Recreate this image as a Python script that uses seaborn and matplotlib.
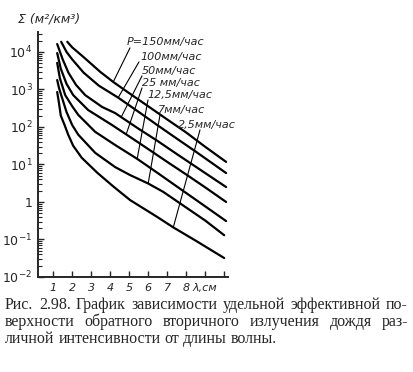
import numpy as np
import pandas as pd
import matplotlib
matplotlib.use("Agg")
import matplotlib.pyplot as plt
from matplotlib.font_manager import FontProperties
import seaborn as sns

# rain intensity labels (top curve first)
rain_labels = ["P=150мм/час", "100мм/час", "50мм/час", "25 мм/час",
               "12,5мм/час", "7мм/час", "2,5мм/час"]

# wavelength, cm  /  specific back-scatter area, m^2/km^3
lam_150 = [1.74, 2.0, 2.58, 3.47, 4.16, 5.0, 6.0, 7.0, 8.0, 9.0, 10.1]
sig_150 = [1.86e4, 1.32e4, 7.4e3, 2.95e3, 1.58e3, 794, 355, 158, 71, 29.5, 11.7]

lam_100 = [1.42, 1.7, 2.0, 2.6, 3.4, 4.42, 5.5, 6.5, 7.5, 8.5, 10.1]
sig_100 = [1.86e4, 1.0e4, 6.3e3, 2.8e3, 1.26e3, 603, 251, 110, 49, 22, 5.9]

lam_50 = [1.21, 1.5, 1.8, 2.2, 2.68, 3.58, 4.26, 5.5, 6.5, 7.5, 8.5, 10.1]
sig_50 = [1.62e4, 6.3e3, 2.8e3, 1.32e3, 708, 339, 234, 89, 42, 19, 8.7, 2.5]

lam_25 = [1.21, 1.4, 1.7, 2.05, 2.84, 4.1, 5.0, 6.0, 7.0, 8.0, 9.0, 10.1]
sig_25 = [9.3e3, 3.55e3, 1.41e3, 708, 282, 112, 56, 25.7, 11.7, 5.4, 2.45, 1.0]

lam_12 = [1.21, 1.35, 1.63, 2.0, 2.32, 3.21, 4.26, 5.42, 6.5, 7.5, 8.5, 10.1]
sig_12 = [5.1e3, 2.0e3, 708, 355, 209, 74, 33, 14.1, 5.9, 2.6, 1.15, 0.31]

lam_7 = [1.21, 1.3, 1.42, 1.7, 2.0, 2.32, 3.21, 4.26, 5.05, 6.0, 6.79, 8.0, 9.0, 10.0]
sig_7 = [1.78e3, 1.12e3, 708, 251, 112, 62, 20.4, 8.5, 5.2, 3.1, 1.86, 0.71, 0.32, 0.13]

lam_2 = [1.21, 1.3, 1.4, 1.6, 1.79, 2.05, 2.5, 3.32, 4.2, 5.05, 6.47, 7.32, 8.5, 10.0]
sig_2 = [851, 447, 200, 112, 62, 31.6, 15.1, 6.0, 2.5, 1.12, 0.4, 0.21, 0.093, 0.032]

lams = [lam_150, lam_100, lam_50, lam_25, lam_12, lam_7, lam_2]
sigs = [sig_150, sig_100, sig_50, sig_25, sig_12, sig_7, sig_2]

# where each leader touches its curve (x, cm)
leader_x = [4.16, 4.42, 4.58, 4.84, 5.42, 6.0, 7.32]

y_ticks = [1e-2, 1e-1, 1, 1e1, 1e2, 1e3, 1e4]
y_ticklabels = ["$10^{-2}$", "$10^{-1}$", "$1$", "$10^{1}$", "$10^{2}$", "$10^{3}$", "$10^{4}$"]
x_ticks = [1, 2, 3, 4, 5, 6, 7, 8, 9, 10]
x_ticklabels = ["1", "2", "3", "4", "5", "6", "7", "8", "λ,см", ""]

caption = ["Рис. 2.98. График зависимости удельной эффективной по-",
           "верхности обратного вторичного излучения дождя раз-",
           "личной интенсивности от длины волны."]

frames = []
for lbl, l, s in zip(rain_labels, lams, sigs):
    frames.append(pd.DataFrame({"lam": l, "sig": s, "P": lbl}))
df = pd.concat(frames, ignore_index=True)

sns.set_style("ticks")
plt.rcParams["font.family"] = ["DejaVu Sans"]
plt.rcParams["mathtext.fontset"] = "dejavusans"
plt.rcParams["mathtext.default"] = "it"

W, H = 413, 372
fig = plt.figure(figsize=(W / 100, H / 100), dpi=100)
ax = fig.add_axes([38 / W, 1 - 277 / H, 190 / W, 245 / H])

sns.lineplot(data=df, x="lam", y="sig", hue="P", palette=["black"] * 7,
             sort=False, estimator=None, legend=False, lw=1.6, ax=ax)

ax.set_yscale("log")
ax.set_xlim(0.2, 10.2)
ax.set_ylim(1e-2, 10 ** 4.53)
ax.set_xlabel("")
ax.set_ylabel("")


def px2data(px, py):
    return 0.2 + (px - 38) / 19, 10 ** (4 - (py - 52) / 37.5)


# labels and leader lines
text_px = [(127, 42), (140, 57), (142, 71), (142, 83), (147, 95), (158, 110), (178, 125)]
lead_px = [(130, 48), (139, 62), (142, 76), (142, 88), (148, 100), (160, 115), (200, 130)]
for lbl, (tx, ty), (lx, ly), cx, l, s in zip(rain_labels, text_px, lead_px, leader_x, lams, sigs):
    x0, y0 = px2data(tx, ty)
    ax.text(x0, y0, lbl, fontsize=8, style="italic", va="center", ha="left")
    x1, y1 = px2data(lx, ly)
    cy = 10 ** np.interp(cx, l, np.log10(s))
    ax.plot([x1, cx], [y1, cy], color="black", lw=0.8)

ax.set_yticks(y_ticks)
ax.set_yticklabels(y_ticklabels, fontsize=9)
ax.yaxis.set_minor_locator(matplotlib.ticker.LogLocator(base=10, subs=np.arange(2, 10), numticks=20))
ax.yaxis.set_minor_formatter(matplotlib.ticker.NullFormatter())

ax.set_xticks(x_ticks)
ax.set_xticklabels(x_ticklabels, fontsize=8, style="italic")

ax.tick_params(axis="both", which="major", direction="in", length=4, width=1, pad=4)
ax.tick_params(axis="y", which="minor", direction="in", length=3, width=0.8)
sns.despine(ax=ax)
for sp in ("left", "bottom"):
    ax.spines[sp].set_linewidth(1.4)

fig.text(18 / W, 1 - 19 / H, "Σ (м²/км³)", fontsize=9, style="italic", va="center", ha="left")

# caption, justified like the book page
cap_y = [305, 322, 339]
x_left, x_right = 5, 408
fp = FontProperties(family="Liberation Serif", size=11.5)
fig.canvas.draw()
rend = fig.canvas.get_renderer()
for i, (line, yy) in enumerate(zip(caption, cap_y)):
    words = line.split(" ")
    widths = [rend.get_text_width_height_descent(w, fp, ismath=False)[0] for w in words]
    if i < len(caption) - 1:
        gap = (x_right - x_left - sum(widths)) / (len(words) - 1)
    else:
        gap = rend.get_text_width_height_descent("a a", fp, False)[0] - \
            2 * rend.get_text_width_height_descent("a", fp, False)[0]
    cur = x_left
    for w, wd in zip(words, widths):
        fig.text(cur / W, 1 - yy / H, w, fontproperties=fp, va="center", ha="left")
        cur += wd + gap

fig.savefig("out.png", dpi=100, facecolor="white")
